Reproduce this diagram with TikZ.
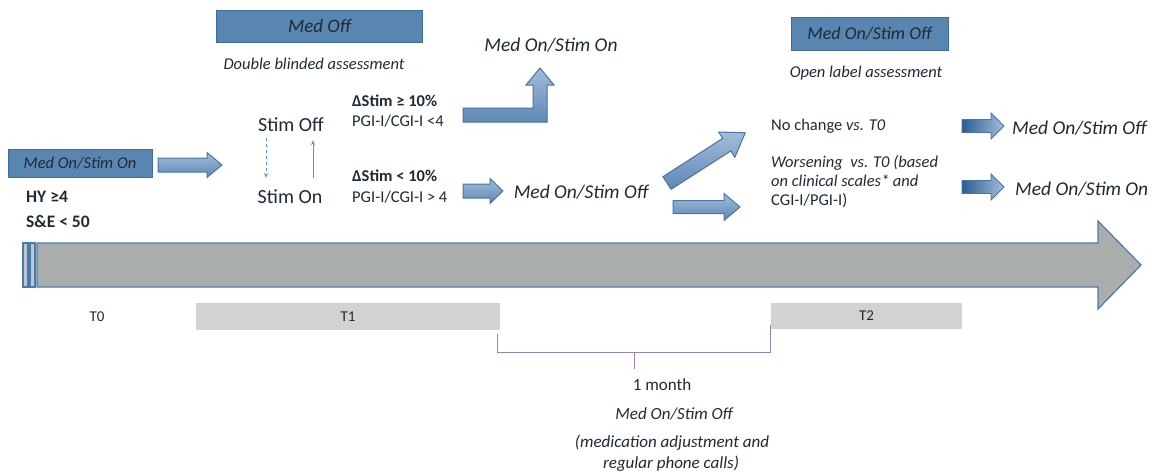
\documentclass[tikz,border=0pt]{standalone}
\usepackage{fontspec}
\setmainfont{Carlito}
\usetikzlibrary{calc,arrows.meta}
\definecolor{boxblue}{HTML}{5886B0}
\definecolor{boxedge}{HTML}{3F6C98}
\definecolor{txt}{HTML}{1F2A36}
\definecolor{arrtop}{HTML}{A3BDDA}
\definecolor{arrbot}{HTML}{5E87B4}
\definecolor{arredge}{HTML}{4A74A3}
\definecolor{arrdark}{HTML}{2C5E92}
\definecolor{tlgray}{HTML}{A9ADAC}
\definecolor{tledge}{HTML}{4A7BB0}
\definecolor{tbar}{HTML}{D2D2D2}
\definecolor{brk}{HTML}{9C80B8}
\definecolor{thinblue}{HTML}{4B9AD8}
\newcommand\blkarrow[7]{%
\begin{scope}[shift={#2},rotate=#3]
\path[#1] (0,-#5) -- ({#4-#7},-#5) -- ({#4-#7},-#6) -- (#4,0) -- ({#4-#7},#6) -- ({#4-#7},#5) -- (0,#5) -- cycle;
\end{scope}}
\tikzset{
  hdrbox/.style={fill=boxblue, draw=boxedge, line width=0.8pt, text=txt, inner sep=0pt},
  lbl/.style={text=txt, inner sep=0pt},
  blk/.style={draw=arredge, line width=1pt, top color=arrtop, bottom color=arrbot},
  blkr/.style={draw=arredge, line width=0.8pt, left color=arrdark, right color=arrtop},
  thinarr/.style={draw=thinblue, line width=0.8pt, -{Stealth[length=5pt,width=4pt]}},
  tbarstyle/.style={fill=tbar, draw=none, inner sep=0pt, text=txt, font=\fontsize{15}{17}\selectfont},
  brkline/.style={draw=brk, line width=0.9pt},
  fa/.style={font=\fontsize{16.5}{20}\selectfont},
  fai/.style={font=\fontsize{16.5}{20}\selectfont\itshape},
  fci/.style={font=\fontsize{17}{20}\selectfont\itshape},
  fab/.style={font=\fontsize{16.5}{20}\selectfont\bfseries},
  fb/.style={font=\fontsize{20}{24}\selectfont},
  fbi/.style={font=\fontsize{19.5}{23}\selectfont\itshape},
}
\begin{document}
\begin{tikzpicture}[x=1pt,y=-1pt]
\useasboundingbox (0,0) rectangle (1156,475);
\fill[white] (0,0) rectangle (1156,475);

% header boxes
\node[hdrbox, minimum width=206pt, minimum height=32pt, font=\fontsize{19}{22}\selectfont\itshape] (medoff) at (319.5,26) {Med Off};
\node[lbl, fai] (dba) at (314,64) {Double blinded assessment};
\node[hdrbox, minimum width=157pt, minimum height=33pt, font=\fontsize{18}{21}\selectfont\itshape] (mosoffbox) at (869.5,33.5) {Med On/Stim Off};
\node[lbl, fai] (ola) at (866,73) {Open label assessment};

% left start box
\node[hdrbox, minimum width=144pt, minimum height=28pt, font=\fontsize{16.5}{19}\selectfont\itshape] (start) at (80,163.5) {Med On/Stim On};
\node[lbl, anchor=west, font=\fontsize{17.5}{21}\selectfont\bfseries] (hy) at (26,197) {HY ≥4};
\node[lbl, anchor=west, font=\fontsize{17.5}{21}\selectfont\bfseries] (se) at (26,222) {S\&E < 50};

% arrow start -> stim
\blkarrow{blk}{(158,165)}{0}{64}{7}{12.5}{15}

% Stim off / on
\node[lbl, fb] (soff) at (291,125) {Stim Off};
\node[lbl, fb] (son) at (290,197) {Stim On};
\draw[thinarr, dashed] ([xshift=-25pt,yshift=-6pt]soff.south) -- ([xshift=-24pt,yshift=12pt]son.north);
\draw[thinarr] ([xshift=23pt,yshift=12pt]son.north) -- ([xshift=22pt,yshift=-8pt]soff.south);

% conditions
\node[lbl, anchor=west, fab] (c1a) at (352,101) {ΔStim ≥ 10\%};
\node[lbl, anchor=west, fa] (c1b) at (352,121) {PGI-I/CGI-I <4};
\node[lbl, anchor=west, fab] (c2a) at (352,176) {ΔStim < 10\%};
\node[lbl, anchor=west, fa] (c2b) at (352,197) {PGI-I/CGI-I > 4};

% bent arrow
\path[blk] (463,108) -- (533,108) -- (533,85) -- (526,85) -- (540,68) -- (554,85) -- (547,85) -- (547,122) -- (463,122) -- cycle;
\node[lbl, fbi] (monson) at (551,45) {Med On/Stim On};

% arrow to Med On/Stim Off
\blkarrow{blk}{(463,191)}{0}{40}{7}{12.5}{13}
\node[lbl, fbi] (monsoff) at (581,192) {Med On/Stim Off};

% diagonal and lower arrows
\blkarrow{blk}{(667,183)}{32.7}{93}{7.5}{15}{22}
\blkarrow{blk}{(673,207)}{0}{67}{6.5}{13.5}{16}

% outcomes
\node[lbl, anchor=west, fa] (nochg) at (771,126) {No change \textit{vs. T0}};
\node[lbl, anchor=north west, fa, align=left] (worse) at (771,155) {\textit{Worsening\ \ vs. T0 (based}\\[-1pt]\textit{on clinical scales* and}\\[-1pt]CGI-I/PGI-I)};

\blkarrow{blkr}{(962,126)}{0}{42}{6.5}{13}{13}
\blkarrow{blkr}{(962,187)}{0}{42}{6.5}{13}{13}
\node[lbl, anchor=west, fbi] (r1) at (1012,128) {Med On/Stim Off};
\node[lbl, anchor=west, fbi] (r2) at (1015,189) {Med On/Stim On};

% timeline
\path[fill=tlgray, draw=tledge, line width=1.2pt] (37,243) -- (1098,243) -- (1098,221) -- (1141,265) -- (1098,309) -- (1098,287) -- (37,287) -- cycle;
\path[fill=tlgray!70, draw=tledge, line width=1.2pt] (23,243) rectangle (28,287);
\path[fill=tlgray!70, draw=tledge, line width=1.2pt] (30,243) rectangle (35,287);

% T bars
\node[lbl, font=\fontsize{15}{17}\selectfont] (t0) at (97,317) {T0};
\node[tbarstyle, minimum width=304pt, minimum height=27pt] (t1) at (348,316.5) {T1};
\node[tbarstyle, minimum width=191pt, minimum height=26pt] (t2) at (866.5,316) {T2};

% bracket
\draw[brkline] (t1.south east) ++(-3,4) coordinate (b1) -- ++(0,18) coordinate (b2) -| ([yshift=4pt]t2.south west) coordinate (b3);
\coordinate (bm) at ($(b2)!0.5!(b2-|b3)$);
\draw[brkline] (bm) -- ++(0,17) coordinate (bt);

\node[lbl, font=\fontsize{17}{20}\selectfont] (month) at (662,385) {1 month};
\node[lbl, fci] (bsoff) at (674,414) {Med On/Stim Off};
\node[lbl, fci] (madj) at (672,443) {(medication adjustment and};
\node[lbl, fci] (phone) at (671,464) {regular phone calls)};
\end{tikzpicture}
\end{document}
